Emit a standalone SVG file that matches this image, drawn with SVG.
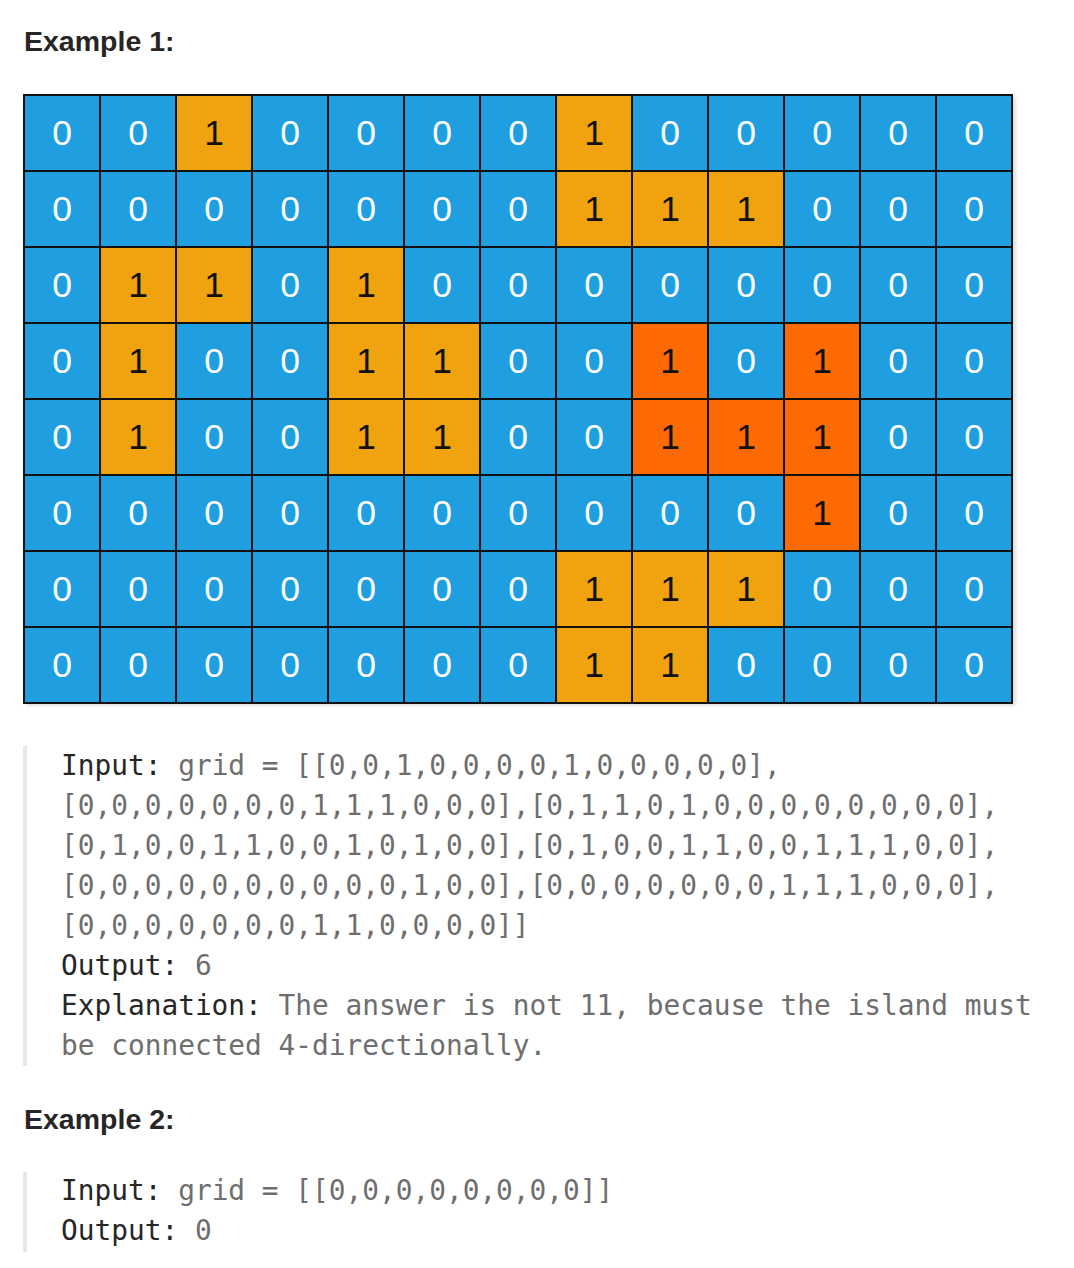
<svg xmlns="http://www.w3.org/2000/svg" width="1074" height="1268" viewBox="0 0 1074 1268">
<style>
.h{font-family:"Liberation Sans",Arial,sans-serif;font-weight:bold;font-size:28.5px;fill:#262626}
.w{fill:#1f9fe0}
.o{fill:#f0a30f}
.r{fill:#fd6a02}
.d{font-family:"Liberation Sans",Arial,sans-serif;font-size:35.5px;text-anchor:middle}
.z{fill:#ffffff}
.n{fill:#111111}
.c{font-family:"DejaVu Sans Mono","Liberation Mono",monospace;font-size:27.8px;fill:#6e6e6e}
.k{fill:#262626}
.bar{fill:#e8e8e8}
</style>
<defs>
<filter id="sh" x="-5%" y="-5%" width="110%" height="110%"><feGaussianBlur stdDeviation="2"/></filter>
</defs>
<rect width="1074" height="1268" fill="#ffffff"/>
<text class="h" x="24" y="51">Example 1:</text>

<g id="grid">
<rect x="26" y="97" width="989" height="608" fill="#000" opacity="0.18" filter="url(#sh)"/>
<rect class="w" x="24" y="95" width="988" height="608"/>
<g id="land">
<rect class="o" x="176" y="95" width="76" height="76"/>
<rect class="o" x="556" y="95" width="76" height="76"/>
<rect class="o" x="556" y="171" width="76" height="76"/>
<rect class="o" x="632" y="171" width="76" height="76"/>
<rect class="o" x="708" y="171" width="76" height="76"/>
<rect class="o" x="100" y="247" width="76" height="76"/>
<rect class="o" x="176" y="247" width="76" height="76"/>
<rect class="o" x="328" y="247" width="76" height="76"/>
<rect class="o" x="100" y="323" width="76" height="76"/>
<rect class="o" x="328" y="323" width="76" height="76"/>
<rect class="o" x="404" y="323" width="76" height="76"/>
<rect class="r" x="632" y="323" width="76" height="76"/>
<rect class="r" x="784" y="323" width="76" height="76"/>
<rect class="o" x="100" y="399" width="76" height="76"/>
<rect class="o" x="328" y="399" width="76" height="76"/>
<rect class="o" x="404" y="399" width="76" height="76"/>
<rect class="r" x="632" y="399" width="76" height="76"/>
<rect class="r" x="708" y="399" width="76" height="76"/>
<rect class="r" x="784" y="399" width="76" height="76"/>
<rect class="r" x="784" y="475" width="76" height="76"/>
<rect class="o" x="556" y="551" width="76" height="76"/>
<rect class="o" x="632" y="551" width="76" height="76"/>
<rect class="o" x="708" y="551" width="76" height="76"/>
<rect class="o" x="556" y="627" width="76" height="76"/>
<rect class="o" x="632" y="627" width="76" height="76"/>
</g>
<g id="lines" stroke="#111" stroke-width="2" fill="none">
<rect x="24" y="95" width="988" height="608"/>
<path d="M100 95V703M176 95V703M252 95V703M328 95V703M404 95V703M480 95V703M556 95V703M632 95V703M708 95V703M784 95V703M860 95V703M936 95V703"/>
<path d="M24 171H1012M24 247H1012M24 323H1012M24 399H1012M24 475H1012M24 551H1012M24 627H1012"/>
</g>
<g id="digits" class="d">
<g id="row0"><text class="z" x="62" y="145">0</text><text class="z" x="138" y="145">0</text><text class="n" x="214" y="145">1</text><text class="z" x="290" y="145">0</text><text class="z" x="366" y="145">0</text><text class="z" x="442" y="145">0</text><text class="z" x="518" y="145">0</text><text class="n" x="594" y="145">1</text><text class="z" x="670" y="145">0</text><text class="z" x="746" y="145">0</text><text class="z" x="822" y="145">0</text><text class="z" x="898" y="145">0</text><text class="z" x="974" y="145">0</text></g>
<g id="row1"><text class="z" x="62" y="221">0</text><text class="z" x="138" y="221">0</text><text class="z" x="214" y="221">0</text><text class="z" x="290" y="221">0</text><text class="z" x="366" y="221">0</text><text class="z" x="442" y="221">0</text><text class="z" x="518" y="221">0</text><text class="n" x="594" y="221">1</text><text class="n" x="670" y="221">1</text><text class="n" x="746" y="221">1</text><text class="z" x="822" y="221">0</text><text class="z" x="898" y="221">0</text><text class="z" x="974" y="221">0</text></g>
<g id="row2"><text class="z" x="62" y="297">0</text><text class="n" x="138" y="297">1</text><text class="n" x="214" y="297">1</text><text class="z" x="290" y="297">0</text><text class="n" x="366" y="297">1</text><text class="z" x="442" y="297">0</text><text class="z" x="518" y="297">0</text><text class="z" x="594" y="297">0</text><text class="z" x="670" y="297">0</text><text class="z" x="746" y="297">0</text><text class="z" x="822" y="297">0</text><text class="z" x="898" y="297">0</text><text class="z" x="974" y="297">0</text></g>
<g id="row3"><text class="z" x="62" y="373">0</text><text class="n" x="138" y="373">1</text><text class="z" x="214" y="373">0</text><text class="z" x="290" y="373">0</text><text class="n" x="366" y="373">1</text><text class="n" x="442" y="373">1</text><text class="z" x="518" y="373">0</text><text class="z" x="594" y="373">0</text><text class="n" x="670" y="373">1</text><text class="z" x="746" y="373">0</text><text class="n" x="822" y="373">1</text><text class="z" x="898" y="373">0</text><text class="z" x="974" y="373">0</text></g>
<g id="row4"><text class="z" x="62" y="449">0</text><text class="n" x="138" y="449">1</text><text class="z" x="214" y="449">0</text><text class="z" x="290" y="449">0</text><text class="n" x="366" y="449">1</text><text class="n" x="442" y="449">1</text><text class="z" x="518" y="449">0</text><text class="z" x="594" y="449">0</text><text class="n" x="670" y="449">1</text><text class="n" x="746" y="449">1</text><text class="n" x="822" y="449">1</text><text class="z" x="898" y="449">0</text><text class="z" x="974" y="449">0</text></g>
<g id="row5"><text class="z" x="62" y="525">0</text><text class="z" x="138" y="525">0</text><text class="z" x="214" y="525">0</text><text class="z" x="290" y="525">0</text><text class="z" x="366" y="525">0</text><text class="z" x="442" y="525">0</text><text class="z" x="518" y="525">0</text><text class="z" x="594" y="525">0</text><text class="z" x="670" y="525">0</text><text class="z" x="746" y="525">0</text><text class="n" x="822" y="525">1</text><text class="z" x="898" y="525">0</text><text class="z" x="974" y="525">0</text></g>
<g id="row6"><text class="z" x="62" y="601">0</text><text class="z" x="138" y="601">0</text><text class="z" x="214" y="601">0</text><text class="z" x="290" y="601">0</text><text class="z" x="366" y="601">0</text><text class="z" x="442" y="601">0</text><text class="z" x="518" y="601">0</text><text class="n" x="594" y="601">1</text><text class="n" x="670" y="601">1</text><text class="n" x="746" y="601">1</text><text class="z" x="822" y="601">0</text><text class="z" x="898" y="601">0</text><text class="z" x="974" y="601">0</text></g>
<g id="row7"><text class="z" x="62" y="677">0</text><text class="z" x="138" y="677">0</text><text class="z" x="214" y="677">0</text><text class="z" x="290" y="677">0</text><text class="z" x="366" y="677">0</text><text class="z" x="442" y="677">0</text><text class="z" x="518" y="677">0</text><text class="n" x="594" y="677">1</text><text class="n" x="670" y="677">1</text><text class="z" x="746" y="677">0</text><text class="z" x="822" y="677">0</text><text class="z" x="898" y="677">0</text><text class="z" x="974" y="677">0</text></g>
</g>
</g>

<g id="example1-text">
<rect class="bar" x="23" y="746" width="4" height="320"/>
<text class="c" x="61" y="775"><tspan class="k">Input:</tspan> grid = [[0,0,1,0,0,0,0,1,0,0,0,0,0],</text>
<text class="c" x="61" y="815">[0,0,0,0,0,0,0,1,1,1,0,0,0],[0,1,1,0,1,0,0,0,0,0,0,0,0],</text>
<text class="c" x="61" y="855">[0,1,0,0,1,1,0,0,1,0,1,0,0],[0,1,0,0,1,1,0,0,1,1,1,0,0],</text>
<text class="c" x="61" y="895">[0,0,0,0,0,0,0,0,0,0,1,0,0],[0,0,0,0,0,0,0,1,1,1,0,0,0],</text>
<text class="c" x="61" y="935">[0,0,0,0,0,0,0,1,1,0,0,0,0]]</text>
<text class="c" x="61" y="975"><tspan class="k">Output:</tspan> 6</text>
<text class="c" x="61" y="1015"><tspan class="k">Explanation:</tspan> The answer is not 11, because the island must</text>
<text class="c" x="61" y="1055">be connected 4-directionally.</text>
</g>

<text class="h" x="24" y="1129">Example 2:</text>
<g id="example2-text">
<rect class="bar" x="23" y="1172" width="4" height="80"/>
<text class="c" x="61" y="1200"><tspan class="k">Input:</tspan> grid = [[0,0,0,0,0,0,0,0]]</text>
<text class="c" x="61" y="1240"><tspan class="k">Output:</tspan> 0</text>
</g>
</svg>
